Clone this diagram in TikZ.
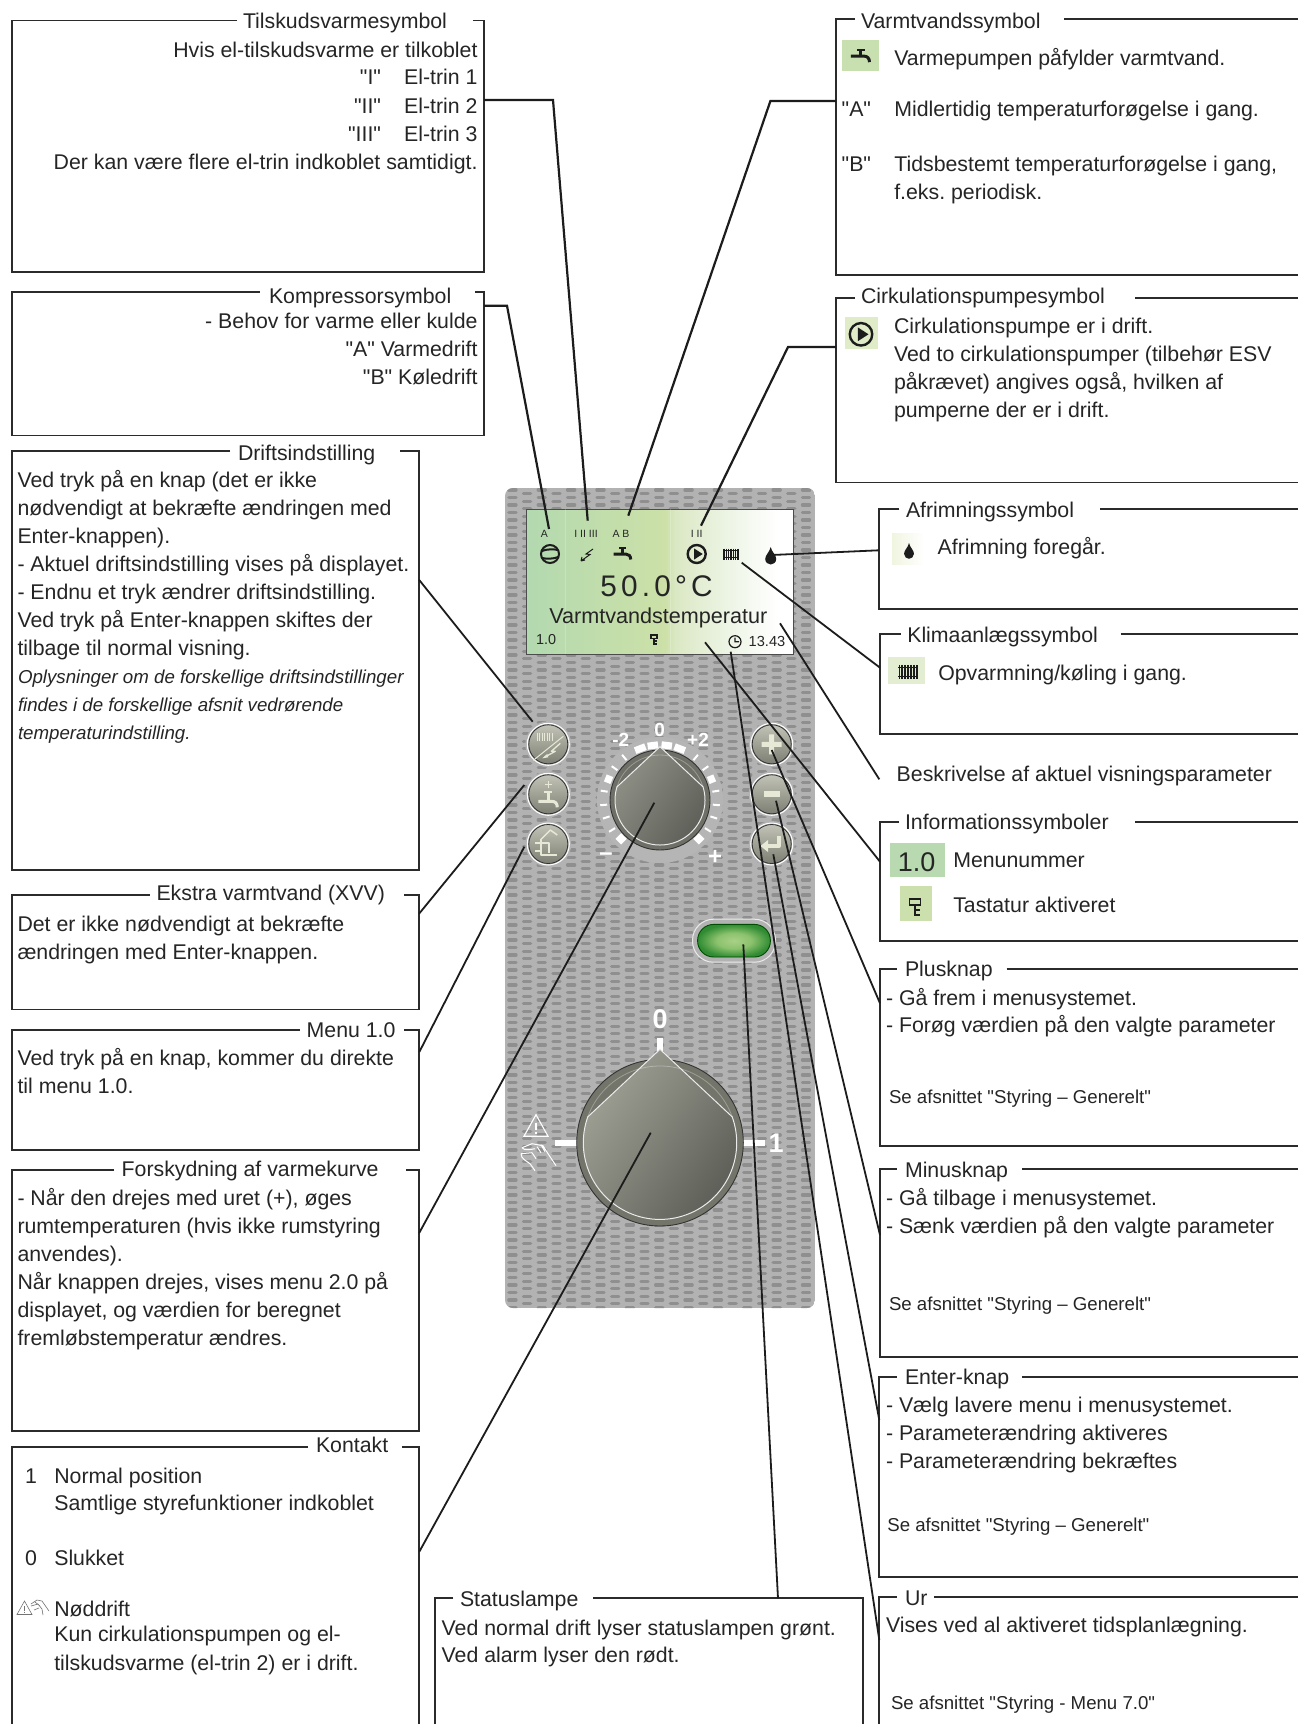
\documentclass[tikz,border=0pt]{standalone}
\usepackage{fontspec}
\setmainfont{Liberation Sans}[Ligatures=TeXOff]
\newfontfamily\dispfont[LetterSpace=14]{Liberation Sans}
\usetikzlibrary{calc}
\definecolor{ink}{HTML}{252525}
\definecolor{boxline}{HTML}{2B2B2B}
\definecolor{panelbg}{HTML}{B2B2B2}
\definecolor{pillc}{HTML}{8F8F8F}
\definecolor{cream}{HTML}{E8E8D6}
\definecolor{symb}{HTML}{1C1C1C}
\definecolor{BtnA}{HTML}{C2C3B6}
\definecolor{BtnB}{HTML}{7E7F74}
\definecolor{KoneA}{HTML}{8F9086}
\definecolor{KoneB}{HTML}{5C5D56}
\definecolor{KoneR}{HTML}{6E6F66}
\definecolor{KtwoA}{HTML}{A0A195}
\definecolor{KtwoB}{HTML}{5A5B54}
\definecolor{KtwoR}{HTML}{73746A}
\definecolor{icoA}{HTML}{C8E0B0}
\definecolor{icoB}{HTML}{E0ECC8}
\definecolor{icoC}{HTML}{F0F5E0}
\definecolor{icoD}{HTML}{E2EDD2}
\definecolor{icoE}{HTML}{B9D9B0}
\definecolor{icoF}{HTML}{CBE0AC}
\pgfdeclarehorizontalshading{dispshade}{100bp}{rgb(0bp)=(0.70,0.85,0.69);rgb(25bp)=(0.70,0.85,0.69);rgb(40bp)=(0.76,0.87,0.67);rgb(51bp)=(0.80,0.88,0.66);rgb(53bp)=(0.86,0.91,0.77);rgb(63bp)=(0.93,0.96,0.90);rgb(72bp)=(1,1,1);rgb(100bp)=(1,1,1)}
\pgfdeclareradialshading{lampshade}{\pgfpoint{0bp}{0bp}}{rgb(0bp)=(0.66,0.82,0.53);rgb(12bp)=(0.55,0.76,0.43);rgb(25bp)=(0.19,0.55,0.20);rgb(50bp)=(0.15,0.45,0.17)}
\tikzset{
  tx/.style={inner sep=0pt,outer sep=0pt,text=ink,font=\fontsize{21.3}{28}\selectfont},
  sm/.style={tx,font=\fontsize{18.65}{24}\selectfont},
  it/.style={tx,font=\fontsize{18.7}{28}\selectfont\itshape},
  bx/.style={draw=boxline,line width=1.9pt,line join=miter},
  conn/.style={draw=symb,line width=2.2pt,line join=miter},
  thinconn/.style={draw=symb,line width=1.8pt},
  pill/.style={draw=pillc,line width=3.2pt,line cap=round},
  tickm/.style={draw=white,line cap=butt},
  icn/.style={draw=cream,line cap=butt,line join=round,fill=none},
  sy/.style={draw=symb,fill=none},
  lab/.style={inner sep=0pt,text=white,font=\fontsize{19}{20}\selectfont\bfseries},
  dtx/.style={inner sep=0pt,text=ink},
}
\newcommand{\LineL}[4]{\node[tx,anchor=base west] (#1) at (#2,#3) {#4};}
\newcommand{\LineR}[4]{\node[tx,anchor=base east] (#1) at (#2,#3) {#4};}
\newcommand{\SmallL}[4]{\node[sm,anchor=base west] (#1) at (#2,#3) {#4};}
\newcommand{\ItL}[4]{\node[it,anchor=base west] (#1) at (#2,#3) {#4};}
% box: x1 y1 x2 y2 gapL gapR
\newcommand{\TBox}[6]{\draw[bx] (#5,#2) -- (#1,#2) -- (#1,#4) -- (#3,#4) -- (#3,#2) -- (#6,#2);}
\newcommand{\RBox}[5]{\draw[bx] (#4,#2) -- (#1,#2) -- (#1,#3) -- (1304,#3); \draw[bx] (#5,#2) -- (1304,#2);}
% symbols
\newcommand{\TapSym}[3]{\begin{scope}[shift={(#1,#2)},scale=#3]
  \draw[sy,line width=3pt] (-9,1) -- (3,1) .. controls (6,1) and (8,3) .. (8,6.5);
  \draw[sy,line width=2.6pt] (0,1) -- (0,-4);
  \draw[sy,line width=2pt] (-3.5,-5) -- (3.5,-5);
\end{scope}}
\newcommand{\PumpSym}[3]{\begin{scope}[shift={(#1,#2)},scale=#3]
  \draw[sy,line width=2.4pt] (0,0) circle[radius=9];
  \fill[symb] (-2.5,-5.5) -- (6,0) -- (-2.5,5.5) -- cycle;
\end{scope}}
\newcommand{\RadSym}[3]{\begin{scope}[shift={(#1,#2)},scale=#3]
  \foreach \q in {-7,-4.7,-2.3,0,2.3,4.7,7}{\draw[sy,line width=1.5pt] (\q,-5.5) -- (\q,5.5);}
  \draw[sy,line width=.8pt] (-8,-3.7) -- (8,-3.7) (-8,3.7) -- (8,3.7);
\end{scope}}
\newcommand{\DropSym}[3]{\begin{scope}[shift={(#1,#2)},scale=#3]
  \fill[symb] (0,-10) .. controls (1,-5) and (5.5,-2) .. (5.5,2) .. controls (5.5,5.5) and (2.5,7.5) .. (0,7.5) .. controls (-2.5,7.5) and (-5.5,5.5) .. (-5.5,2) .. controls (-5.5,-2) and (-1,-5) .. (0,-10) -- cycle;
\end{scope}}
\newcommand{\KeySym}[3]{\begin{scope}[shift={(#1,#2)},scale=#3]
  \draw[sy,line width=1.5pt] (-3.5,-5) rectangle (3.5,-1);
  \draw[sy,line width=1.7pt] (0,-1) -- (0,5.5) -- (3.5,5.5) (0,2.2) -- (3,2.2);
\end{scope}}
\newcommand{\Knob}[9]{% cx cy Router rinner tip ang light dark outerfill
  \fill[#9,draw=black!80,line width=.9pt] (#1,#2) circle[radius=#3];
  \shade[top color=#7,bottom color=#8,shading angle=55] (#1,#2-#5) -- ({#1+#4*cos(#6)},{#2-#4*sin(#6)}) arc[start angle=-#6,end angle=180+#6,radius=#4] -- cycle;
  \draw[draw=white!92!black,line width=1pt,line join=miter] (#1,#2-#5) -- ({#1+#4*cos(#6)},{#2-#4*sin(#6)}) arc[start angle=-#6,end angle=180+#6,radius=#4] -- cycle;
  \draw[draw=white,opacity=.3,line width=.8pt] ({#1+#4*cos(#6)},{#2-#4*sin(#6)}) arc[start angle=-#6,end angle=-180+#6,radius=#4];
}
\newcommand{\Btn}[2]{%
  \fill[panelbg] (#1,#2) circle[radius=23];
  \draw[white,line width=1pt] (#1,#2) circle[radius=21];
  \shade[top color=BtnA,bottom color=BtnB] (#1,#2) circle[radius=19.5];
  \draw[black!80,line width=.8pt] (#1,#2) circle[radius=19.5];
}
\begin{document}
\frenchspacing
\begin{tikzpicture}[x=1pt,y=-1pt]
\useasboundingbox (0,0) rectangle (1298,1724);
\fill[white] (0,0) rectangle (1298,1724);
\clip (0,0) rectangle (1298,1724);

% ---------- panel
\begin{scope}
  \clip[rounded corners=8pt] (505,488) rectangle (815,1308);
  \fill[panelbg] (505,488) rectangle (815,1308);
  \foreach \c in {0,...,20}{
    \pgfmathsetmacro\xx{508.8+14.68*\c}
    \pgfmathsetmacro\off{mod(\c,2)*3.75}
    \draw[pill] \foreach \r [evaluate=\r as \yy using 490+7.5*\r+\off] in {0,...,109}{ (\xx,\yy) -- ++(7.2,0) };
  }
\end{scope}
% display
\shade[shading=dispshade] (526,509) rectangle (793,654);
\draw[draw=black!70,line width=.9pt] (526,509) rectangle (793,654);
\draw[white,opacity=.2,line width=.6pt] (565,509) -- (565,654) (670,509) -- (670,654);
\node[dtx,font=\fontsize{10.5}{12}\selectfont] (dA) at (544.3,533.5) {A};
\node[dtx,font=\fontsize{10.5}{12}\selectfont] (dI) at (586,533.5) {I II III};
\node[dtx,font=\fontsize{10.5}{12}\selectfont] (dAB) at (621,533.5) {A B};
\node[dtx,font=\fontsize{10.5}{12}\selectfont] (dII) at (696.7,533.5) {I II};
% compressor symbol
\draw[sy,line width=2pt] (550,554) circle[radius=9];
\draw[sy,line width=2pt] (542,551) .. controls (546,549) and (554,549) .. (558,550);
\draw[sy,line width=2pt] (542,558) .. controls (546,559) and (554,559) .. (558,557);
% lightning
\draw[sy,line width=1pt] (593,549) -- (586,554) -- (590,554.5) -- (581,561) (581,561) -- (585,560) (581,561) -- (582,557);
\TapSym{622.7}{553}{1}
\PumpSym{696.7}{554}{1}
\RadSym{731}{554}{1}
\DropSym{770.7}{557}{1}
\node[dtx,anchor=base,font=\dispfont\fontsize{29.8}{30}\selectfont] (dTemp) at (656.5,596.7) {50.0°C};
\node[dtx,anchor=base,font=\fontsize{21.6}{24}\selectfont] (dName) at (658.3,623.3) {Varmtvandstemperatur};
\node[dtx,anchor=base west,font=\fontsize{14.4}{16}\selectfont] (dMenu) at (536,644) {1.0};
\KeySym{654}{639.3}{.9}
\draw[sy,line width=1.2pt] (735,641.7) circle[radius=6] (735,637.5) -- (735,641.7) -- (739,641.7);
\node[dtx,anchor=base west,font=\fontsize{14.6}{16}\selectfont] (dClock) at (748.5,646) {13.43};

% buttons
\Btn{548.3}{744.3}\Btn{548.3}{794.3}\Btn{548.3}{844}
\Btn{771.7}{744.3}\Btn{771.7}{794.3}\Btn{771.7}{844}
\begin{scope}[shift={(548.3,744.3)}]
  \foreach \q in {-11,-8.5,-6,-3.5,-1,1.5,4}{\draw[icn,line width=.9pt] (\q,-11) -- (\q,-3);}
  \draw[icn,line width=1pt] (-15,16) -- (15,-8);
  \draw[icn,line width=1.3pt] (12,-1) -- (3,7) -- (7,7) -- (-4,13);
  \fill[cream] (-6,14) -- (-1,9.5) -- (0,13) -- cycle;
\end{scope}
\begin{scope}[shift={(548.3,794.3)}]
  \draw[icn,line width=1.3pt] (0,-13) -- (0,-6) (-3.5,-9.5) -- (3.5,-9.5);
  \draw[icn,line width=3pt] (-10,7) -- (3,7) .. controls (7,7) and (9,9) .. (9,13);
  \draw[icn,line width=2.4pt] (0,7) -- (0,-1);
  \draw[icn,line width=2pt] (-4,-2) -- (4,-2);
\end{scope}
\begin{scope}[shift={(548.3,844)}]
  \draw[icn,line width=1.5pt] (-8,-4) -- (2,-14) -- (9,-9);
  \draw[icn,line width=2.2pt] (-7,-4) -- (-7,11) -- (9,11) (-13,-1) -- (1,-1) -- (1,9) (-13,7) -- (-7,7);
\end{scope}
\fill[cream] (761.7,741.8) rectangle (781.7,746.8) (769.2,734.3) rectangle (774.2,754.3);
\fill[cream] (763.7,791.3) rectangle (779.7,797.3);
\draw[icn,line width=4pt] (764,846) -- (778.7,846) -- (778.7,836);
\fill[cream] (760.5,846) -- (768,840) -- (768,852) -- cycle;

% knob 1 ring + ticks
\fill[panelbg!96!white] (660,800) circle[radius=63];
\foreach \a/\w/\ra/\rb in {-21/11/51.5/58.5,-7.5/10.5/51.5/58.5,7/10.5/51.5/58.5,21/11/51.5/58.5,68/7.5/52/59,-68/7.5/52/59,135/8/51/59,-135/8/51/59,
  40/2/52/59,55/2/52/59,81/2/53/60,95/2/53/60,108/2/53/60,122/2/53/60,-40/2/52/59,-55/2/52/59,-81/2/53/60,-95/2/53/60,-108/2/53/60,-122/2/53/60}{
  \draw[tickm,line width=\w pt] ({660+\ra*sin(\a)},{800-\ra*cos(\a)}) -- ({660+\rb*sin(\a)},{800-\rb*cos(\a)});
}
\Knob{660}{800}{50}{45}{53.3}{17}{KoneA}{KoneB}{KoneR}
\node[lab] (k1m) at (620.7,740) {-2};
\node[lab] (k1z) at (659.7,730) {0};
\node[lab] (k1p) at (698,740) {+2};
\node[lab,font=\fontsize{24}{24}\selectfont\bfseries] (k1minus) at (606,857) {–};
\node[lab,font=\fontsize{24}{24}\selectfont\bfseries] (k1plus) at (715,857.7) {+};

% lamp
\draw[white!92!black,line width=1pt,fill=panelbg,rounded corners=21pt] (692.5,919.2) rectangle (775.5,962.2);
\shade[shading=lampshade,rounded corners=16pt,draw=black!70!green,line width=.9pt] (697.6,924.4) rectangle (770.4,957);

% knob 2
\fill[white] (657,1038) rectangle (663,1052);
\fill[white] (555,1139.7) rectangle (578,1145.7);
\fill[white] (742,1139.7) rectangle (765,1145.7);
\Knob{660}{1142.7}{83.3}{76.7}{93.4}{19.7}{KtwoA}{KtwoB}{KtwoR}
\node[lab,font=\fontsize{27}{28}\selectfont\bfseries] (k2z) at (660,1019.3) {0};
\node[lab,font=\fontsize{27}{28}\selectfont\bfseries] (k2o) at (776,1142.7) {1};
% warning + hand on panel
\begin{scope}[shift={(536,1126.7)}]
  \draw[white,line width=1.1pt,line join=miter] (-12,9.5) -- (0,-12) -- (12,9.5) -- cycle;
  \draw[white,line width=1.4pt] (0,-4) -- (0,3) (0,5) -- (0,7);
\end{scope}
\begin{scope}[shift={(538,1156.7)}]
  \draw[white,line width=1pt,line join=round] (-16,-9) -- (-6,-13) -- (5,-11) -- (10,-3) -- (18,9) (-16,-9) .. controls (-14,-6) and (-8,-7) .. (-3,-8) (-17,-3) -- (-6,-4) (-17,-3) .. controls (-17,2) and (-12,4) .. (-8,7) -- (-3,14) (-1,-10) -- (3,-4) (3,-12) -- (7,-5) (-6,-4) -- (-2,2);
\end{scope}

% ---------- boxes: left column
\TBox{11.7}{20.5}{484}{272}{237}{473}
\LineL{tTil}{243}{28}{Tilskudsvarmesymbol}
\LineR{til1}{477.5}{57.5}{Hvis el-tilskudsvarme er tilkoblet}
\LineR{til2a}{381}{84.5}{"I"}
\LineR{til2b}{477.5}{84.5}{El-trin 1}
\LineR{til3a}{381}{113}{"II"}
\LineR{til3b}{477.5}{113}{El-trin 2}
\LineR{til4a}{381}{141.5}{"III"}
\LineR{til4b}{477.5}{141.5}{El-trin 3}
\LineR{til5}{477.5}{169.5}{Der kan være flere el-trin indkoblet samtidigt.}

\TBox{11.7}{292}{484}{435.5}{260}{475}
\LineL{tKom}{269}{303}{Kompressorsymbol}
\LineR{kom1}{477.5}{328}{- Behov for varme eller kulde}
\LineR{kom2}{477.5}{356}{"A" Varmedrift}
\LineR{kom3}{477.5}{384}{"B" Køledrift}

\TBox{11.7}{451}{419}{869.8}{230}{400}
\LineL{tDri}{238}{460}{Driftsindstilling}
\LineL{dr1}{17.5}{487.5}{Ved tryk på en knap (det er ikke}
\LineL{dr2}{17.5}{515.4}{nødvendigt at bekræfte ændringen med}
\LineL{dr3}{17.5}{543.3}{Enter-knappen).}
\LineL{dr4}{17.5}{571.3}{- Aktuel driftsindstilling vises på displayet.}
\LineL{dr5}{17.5}{599.2}{- Endnu et tryk ændrer driftsindstilling.}
\LineL{dr6}{17.5}{627.5}{Ved tryk på Enter-knappen skiftes der}
\LineL{dr7}{17.5}{655}{tilbage til normal visning.}
\ItL{dr8}{18}{683}{Oplysninger om de forskellige driftsindstillinger}
\ItL{dr9}{18}{711}{findes i de forskellige afsnit vedrørende}
\ItL{dr10}{18}{739}{temperaturindstilling.}

\TBox{11.7}{894.6}{419}{1009.5}{149.8}{404}
\LineL{tEks}{156.5}{900.4}{Ekstra varmtvand (XVV)}
\LineL{ek1}{17.5}{931.8}{Det er ikke nødvendigt at bekræfte}
\LineL{ek2}{17.5}{959.7}{ændringen med Enter-knappen.}

\TBox{11.7}{1029.7}{419}{1150}{300}{404}
\LineL{tMen}{306.7}{1037.3}{Menu 1.0}
\LineL{me1}{17.5}{1065}{Ved tryk på en knap, kommer du direkte}
\LineL{me2}{17.5}{1093.3}{til menu 1.0.}

\TBox{11.7}{1170.3}{419}{1430.7}{114.3}{406}
\LineL{tFor}{121.7}{1176}{Forskydning af varmekurve}
\LineL{fo1}{17.5}{1205.3}{- Når den drejes med uret (+), øges}
\LineL{fo2}{17.5}{1233.3}{rumtemperaturen (hvis ikke rumstyring}
\LineL{fo3}{17.5}{1261.3}{anvendes).}
\LineL{fo4}{17.5}{1289.3}{Når knappen drejes, vises menu 2.0 på}
\LineL{fo5}{17.5}{1317.3}{displayet, og værdien for beregnet}
\LineL{fo6}{17.5}{1345.3}{fremløbstemperatur ændres.}

\TBox{11.7}{1447.3}{419}{1732}{308}{401.7}
\LineL{tKon}{316}{1452.7}{Kontakt}
\LineL{ko0}{25}{1483.3}{1}
\LineL{ko1}{54.3}{1483.3}{Normal position}
\LineL{ko2}{54.3}{1510.7}{Samtlige styrefunktioner indkoblet}
\LineL{ko3}{25}{1565}{0}
\LineL{ko4}{54.3}{1565}{Slukket}
\LineL{ko5}{54.3}{1616}{Nøddrift}
\LineL{ko6}{54.3}{1641.7}{Kun cirkulationspumpen og el-}
\LineL{ko7}{54.3}{1670}{tilskudsvarme (el-trin 2) er i drift.}
\begin{scope}[shift={(24.5,1608)}]
  \draw[black!55,line width=.6pt,line join=miter] (-7.5,6.5) -- (0,-7) -- (7.5,6.5) -- cycle;
  \draw[black!55,line width=.8pt] (0,-2) -- (0,2.5) (0,3.6) -- (0,5);
\end{scope}
\begin{scope}[shift={(39,1607)}]
  \draw[black!55,line width=.6pt,line join=round] (-8,-3) -- (-2,-7) -- (3,-6) -- (10,4) (-8,-1) -- (-1,-3) -- (3,2) -- (4,8) (-5,3) -- (0,1) (-4,-5) -- (1,-1);
\end{scope}

% Statuslampe
\TBox{435.3}{1598.3}{863.3}{1732}{453.3}{593.3}
\LineL{tSta}{460}{1606.7}{Statuslampe}
\LineL{st1}{441.7}{1635}{Ved normal drift lyser statuslampen grønt.}
\LineL{st2}{441.7}{1662.7}{Ved alarm lyser den rødt.}

% ---------- boxes: right column
\RBox{836.4}{19.3}{274.7}{855}{1064}
\LineL{tVar}{861}{28.3}{Varmtvandssymbol}
\fill[icoA] (842,40) rectangle (879,71);
\TapSym{860.7}{55}{1.1}
\LineL{va1}{894.3}{65}{Varmepumpen påfylder varmtvand.}
\LineL{va2}{841.7}{116.7}{"A"}
\LineL{va3}{894.3}{116.7}{Midlertidig temperaturforøgelse i gang.}
\LineL{va4}{841.7}{171}{"B"}
\LineL{va5}{894.3}{171}{Tidsbestemt temperaturforøgelse i gang,}
\LineL{va6}{894.3}{199}{f.eks. periodisk.}

\RBox{836.4}{297.7}{482.5}{855}{1135}
\LineL{tCir}{861}{303.3}{Cirkulationspumpesymbol}
\fill[icoB] (845,317) rectangle (877.7,348.7);
\PumpSym{861}{334.3}{1.25}
\LineL{ci1}{894}{333.3}{Cirkulationspumpe er i drift.}
\LineL{ci2}{894}{361.7}{Ved to cirkulationspumper (tilbehør ESV}
\LineL{ci3}{894}{389.3}{påkrævet) angives også, hvilken af}
\LineL{ci4}{894}{417.3}{pumperne der er i drift.}

\RBox{878.7}{509.3}{609.3}{899.3}{1100}
\LineL{tAfr}{906}{517.7}{Afrimningssymbol}
\shade[left color=icoC,right color=white] (892,533) rectangle (924,564.7);
\DropSym{909}{552}{.9}
\LineL{af1}{937.7}{554}{Afrimning foregår.}

\RBox{880}{634}{734}{900.7}{1120.7}
\LineL{tKli}{907.3}{642.3}{Klimaanlægssymbol}
\fill[icoD] (888,657.3) rectangle (925,683.7);
\RadSym{908}{671.7}{1.25}
\LineL{kl1}{938.3}{680}{Opvarmning/køling i gang.}

\LineL{bes}{896.7}{781.7}{Beskrivelse af aktuel visningsparameter}

\RBox{880}{821.7}{940.7}{899}{1135}
\LineL{tInf}{905}{829.3}{Informationssymboler}
\fill[icoE] (890,843.3) rectangle (945,876.7);
\node[dtx,anchor=base,font=\fontsize{27}{28}\selectfont] (iMen) at (916.7,871.7) {1.0};
\LineL{in1}{953.3}{867.3}{Menunummer}
\fill[icoF] (900,886) rectangle (932,920.7);
\KeySym{915}{906.7}{1.55}
\LineL{in2}{953.3}{912.3}{Tastatur aktiveret}

\RBox{880}{969.3}{1146}{896.7}{1006.7}
\LineL{tPlu}{905}{976.7}{Plusknap}
\LineL{pl1}{886}{1005}{- Gå frem i menusystemet.}
\LineL{pl2}{886}{1032.7}{- Forøg værdien på den valgte parameter}
\SmallL{pl3}{889}{1103.3}{Se afsnittet "Styring – Generelt"}

\RBox{880}{1168.7}{1356.7}{896.7}{1022.3}
\LineL{tMin}{905}{1177.3}{Minusknap}
\LineL{mi1}{886}{1205}{- Gå tilbage i menusystemet.}
\LineL{mi2}{886}{1233.3}{- Sænk værdien på den valgte parameter}
\SmallL{mi3}{889}{1310.7}{Se afsnittet "Styring – Generelt"}

\RBox{879.3}{1376.7}{1576.7}{896.7}{1022.3}
\LineL{tEnt}{905}{1384}{Enter-knap}
\LineL{en1}{886}{1412.7}{- Vælg lavere menu i menusystemet.}
\LineL{en2}{886}{1440.7}{- Parameterændring aktiveres}
\LineL{en3}{886}{1468.3}{- Parameterændring bekræftes}
\SmallL{en4}{887.3}{1531.7}{Se afsnittet "Styring – Generelt"}

\RBox{879.3}{1597.3}{1732}{896.7}{934}
\LineL{tUr}{905}{1605}{Ur}
\LineL{ur1}{886}{1632.7}{Vises ved al aktiveret tidsplanlægning.}
\SmallL{ur2}{891}{1709.3}{Se afsnittet "Styring - Menu 7.0"}

% ---------- connector end points
\coordinate (cTil) at (484,100);   \coordinate (bTil) at (553,100);  \coordinate (eTil) at (587.7,520.7);
\coordinate (cKom) at (484,305.7); \coordinate (bKom) at (507,305.7);\coordinate (eKom) at (549,529);
\coordinate (cDri) at (419,579.7); \coordinate (eDri) at (532.7,721.7);
\coordinate (cEks) at (419,913.8); \coordinate (eEks) at (524.3,785);
\coordinate (cMen) at (419.3,1052);\coordinate (eMen) at (524.3,846.7);
\coordinate (cFor) at (419,1233.3);\coordinate (eFor) at (654.3,802.7);
\coordinate (cKon) at (419.3,1551.7);\coordinate (eKon) at (650.7,1132.7);
\coordinate (cSta) at (778,1598.3);\coordinate (eSta) at (743.3,944.3);
\coordinate (cVar) at (836.4,101); \coordinate (bVar) at (770.4,101);\coordinate (eVar) at (628.3,515.7);
\coordinate (cCir) at (836.4,347); \coordinate (bCir) at (788,347);  \coordinate (eCir) at (701,525.7);
\coordinate (cAfr) at (878.7,550.3);\coordinate (eAfr) at (771.7,555);
\coordinate (cKli) at (880,667.7); \coordinate (eKli) at (741.7,562.7);
\coordinate (cBes) at (879.3,779.3);\coordinate (eBes) at (780,623.3);
\coordinate (cInf) at (880,861.7); \coordinate (eInf) at (705,642.3);
\coordinate (cPlu) at (880,1003.3);\coordinate (ePlu) at (771.7,750);
\coordinate (cMin) at (880,1235);  \coordinate (eMin) at (776,800.7);
\coordinate (cEnt) at (879.3,1420);\coordinate (eEnt) at (773.3,854.3);
\coordinate (cUr) at (879.3,1640); \coordinate (eUr) at (730.7,651.7);

\draw[conn] (cTil) -- (bTil) -- (eTil);
\draw[conn] (cKom) -- (bKom) -- (eKom);
\draw[thinconn] (cDri) -- (eDri);
\draw[thinconn] (cEks) -- (eEks);
\draw[thinconn] (cMen) -- (eMen);
\draw[thinconn] (cFor) -- (eFor);
\draw[thinconn] (cKon) -- (eKon);
\draw[thinconn] (cSta) -- (eSta);
\draw[conn] (cVar) -- (bVar) -- (eVar);
\draw[conn] (cCir) -- (bCir) -- (eCir);
\draw[thinconn] (cAfr) -- (eAfr);
\draw[thinconn] (cKli) -- (eKli);
\draw[thinconn] (cBes) -- (eBes);
\draw[thinconn] (cInf) -- (eInf);
\draw[thinconn] (cPlu) -- (ePlu);
\draw[thinconn] (cMin) -- (eMin);
\draw[thinconn] (cEnt) -- (eEnt);
\draw[thinconn] (cUr) -- (eUr);
\end{tikzpicture}
\end{document}
